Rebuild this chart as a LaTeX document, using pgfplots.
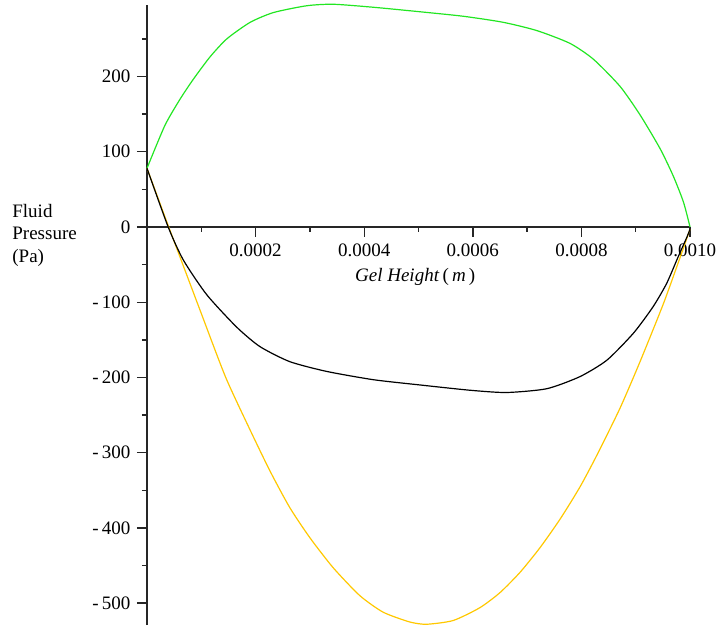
\documentclass[border=0pt]{standalone}
\usepackage{fontspec}
\setmainfont{Liberation Serif}
\usepackage{pgfplots}
\pgfplotsset{compat=1.18}
\definecolor{mgreen}{HTML}{22E622}
\definecolor{myellow}{HTML}{FFC800}

\begin{document}
\fontsize{9.5}{11.25}\selectfont
\begin{tikzpicture}
\begin{axis}[
    at={(0,0)}, anchor=south west,
    scale only axis, width=271.5pt, height=310pt,
    xmin=0, xmax=0.001, ymin=-529, ymax=295,
    axis x line=middle, axis y line=left,
    axis line style={-, line width=0.7pt, black!85},
    tick style={black!85, line width=0.7pt},
    tick align=outside,
    major tick length=5pt, minor tick length=2.5pt,
    hide obscured x ticks=false, hide obscured y ticks=false,
    scaled x ticks=false,
    xtick={0.0002,0.0004,0.0006,0.0008,0.001},
    xticklabels={0.0002,0.0004,0.0006,0.0008,0.0010},
    minor xtick={0.0001,0.0003,0.0005,0.0007,0.0009},
    ytick={-500,-400,-300,-200,-100,0,100,200},
    yticklabels={-\,500,-\,400,-\,300,-\,200,-\,100,0,100,200},
    minor ytick={-450,-350,-250,-150,-50,50,150,250},
    clip=false,
]
% green
\addplot[mgreen, line width=0.6pt, smooth, tension=0.4] coordinates {
    (0,78) (0.000033,135) (0.000061,170) (0.000085,196) (0.000116,226)
    (0.000147,250) (0.000190,272) (0.000233,285) (0.000294,294) (0.000343,296)
    (0.000417,292) (0.000503,286) (0.000583,280) (0.000656,272) (0.000718,261)
    (0.000779,244) (0.000822,223) (0.000871,187) (0.000908,149) (0.000945,104)
    (0.000969,68) (0.000988,33) (0.001,0)
};
% yellow
\addplot[myellow, line width=0.6pt, smooth, tension=0.4] coordinates {
    (0,78) (0.00004,0) (0.0001,-115) (0.000145,-200) (0.000190,-270)
    (0.000227,-325) (0.000263,-373) (0.000300,-413) (0.000343,-453)
    (0.000392,-490) (0.000435,-512) (0.000484,-525) (0.000515,-528)
    (0.000564,-523) (0.000613,-506) (0.000650,-486) (0.000687,-459)
    (0.000724,-426) (0.000761,-388) (0.000797,-346) (0.000828,-304)
    (0.000871,-241) (0.000908,-179) (0.000951,-102) (0.000982,-40) (0.001,-3)
};
% black
\addplot[black, line width=0.6pt, smooth, tension=0.4] coordinates {
    (0,78) (0.000039,0) (0.000067,-44) (0.000110,-90) (0.000165,-133)
    (0.000208,-159) (0.000263,-179) (0.000331,-192) (0.000417,-203)
    (0.000503,-210) (0.000595,-217) (0.000662,-220) (0.000736,-215)
    (0.000797,-199) (0.000847,-177) (0.000896,-141) (0.000932,-106)
    (0.000957,-75) (0.000978,-40) (0.000994,-14) (0.001,-3)
};
\node[inner sep=0pt] at (axis cs:0.000494,-66) {\textit{Gel Height}\,(\,\textit{m}\,)};
\end{axis}
\node[anchor=west, align=left, inner sep=0pt] at (-67.5pt,195pt) {Fluid\\Pressure\\(Pa)};
\pgfresetboundingbox
\path (-73.5pt,-1pt) rectangle (288pt,312.5pt);
\end{tikzpicture}
\end{document}
